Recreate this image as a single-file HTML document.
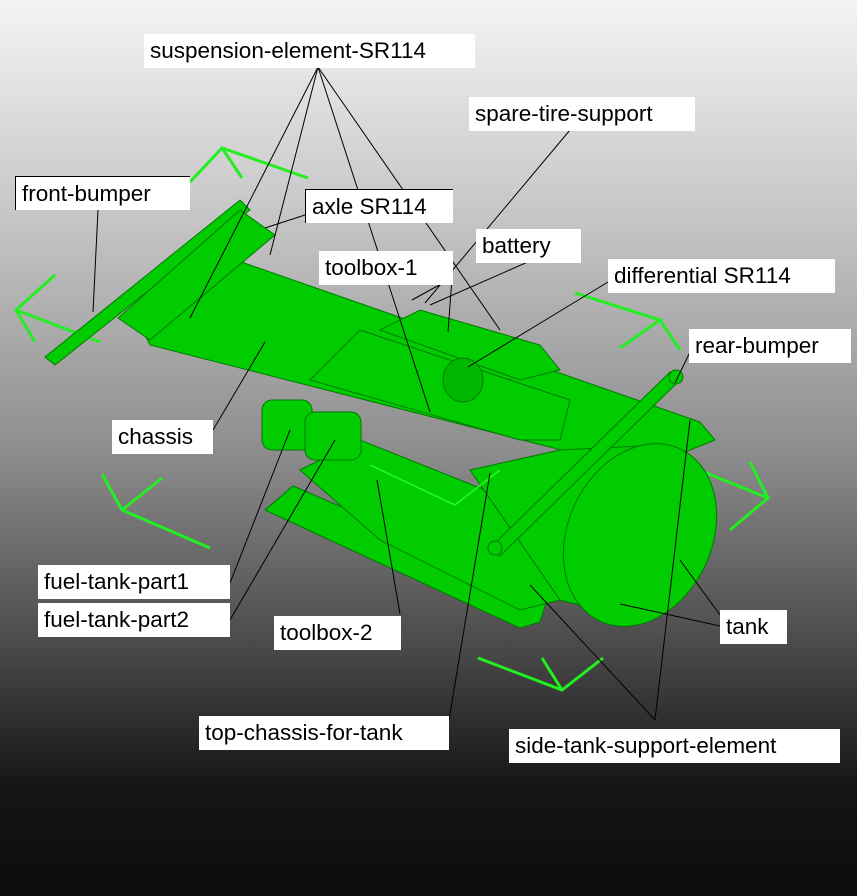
<!DOCTYPE html>
<html><head><meta charset="utf-8"><style>
html,body{margin:0;padding:0}
body{width:857px;height:896px;overflow:hidden;position:relative;background:linear-gradient(#f4f4f4 0%,#c4c4c4 25%,#8e8e8e 50%,#4a4a4a 72%,#151515 88%,#0c0c0c 100%);font-family:"Liberation Sans",sans-serif}
.l{position:absolute;background:#fff;color:#000;font-size:22.5px;line-height:33px;padding:0 6px;white-space:nowrap;box-sizing:border-box;height:34px;overflow:hidden}
svg{position:absolute;left:0;top:0}
</style></head><body>
<svg width="857" height="896" viewBox="0 0 857 896">
<g stroke="#22ee22" stroke-width="3" fill="none">
<polyline points="190,182 222,148 308,178"/><line x1="222" y1="148" x2="242" y2="178"/>
<polyline points="55,275 16,310 100,342"/><line x1="16" y1="310" x2="35" y2="342"/>
<polyline points="575,293 660,320 620,348"/><line x1="660" y1="320" x2="680" y2="350"/>
<polyline points="102,474 122,510 210,548"/><line x1="122" y1="510" x2="162" y2="478"/>
<polyline points="704,472 768,498 730,530"/><line x1="768" y1="498" x2="750" y2="462"/>
<polyline points="478,658 562,690 603,658"/><line x1="562" y1="690" x2="542" y2="658"/>
</g>
<g fill="#00cc00" stroke="#007a00" stroke-width="1">
<polygon points="265,510 293,486 548,596 540,622 520,628"/>
<polygon points="230,258 700,422 715,440 640,470 150,345 140,325"/>
<polygon points="300,470 360,440 560,520 560,600 520,610 380,540"/>
<polygon points="470,470 560,450 660,445 700,470 640,620 560,600"/>
<ellipse cx="640" cy="535" rx="72" ry="95" transform="rotate(25 640 535)"/>
<polygon points="45,357 240,200 250,210 55,365"/>
<polygon points="118,318 240,210 275,235 150,340"/>
<polygon points="380,330 420,310 540,345 560,370 520,380"/>
<polygon points="310,380 360,330 570,400 560,440 520,440"/>
<rect x="262" y="400" width="50" height="50" rx="10"/>
<rect x="305" y="412" width="56" height="48" rx="10"/>
<ellipse cx="463" cy="380" rx="20" ry="22" fill="#00b800"/>
<polygon points="490,548 670,372 680,380 500,556"/>
<circle cx="495" cy="548" r="7"/><circle cx="676" cy="377" r="7"/>
</g>
<g fill="none" stroke="#22ff22" stroke-width="1.5">
<polyline points="370,465 455,505 500,470"/>
</g>
<g stroke="#000" stroke-width="1" fill="none">
<line x1="318" y1="67" x2="190" y2="318"/><line x1="318" y1="67" x2="270" y2="255"/>
<line x1="318" y1="67" x2="430" y2="412"/><line x1="318" y1="67" x2="500" y2="330"/>
<line x1="570" y1="130" x2="425" y2="303"/>
<line x1="98" y1="210" x2="93" y2="312"/>
<line x1="305" y1="215" x2="265" y2="228"/>
<line x1="452" y1="278" x2="448" y2="332"/><line x1="452" y1="278" x2="412" y2="300"/>
<line x1="555" y1="250" x2="430" y2="305"/>
<line x1="608" y1="282" x2="468" y2="367"/>
<line x1="692" y1="348" x2="675" y2="383"/>
<line x1="213" y1="430" x2="265" y2="342"/>
<line x1="230" y1="583" x2="290" y2="430"/><line x1="230" y1="620" x2="335" y2="440"/>
<line x1="400" y1="614" x2="377" y2="480"/>
<line x1="449" y1="720" x2="490" y2="473"/>
<line x1="720" y1="626" x2="620" y2="604"/><line x1="720" y1="615" x2="680" y2="560"/>
<line x1="655" y1="720" x2="530" y2="585"/><line x1="655" y1="720" x2="690" y2="420"/>
</g>
</svg>
<div class="l" style="left:144px;top:34px;width:331px">suspension-element-SR114</div>
<div class="l" style="left:469px;top:97px;width:226px">spare-tire-support</div>
<div class="l" style="left:15px;top:176px;width:175px;border-top:1px solid #000;border-left:1px solid #000">front-bumper</div>
<div class="l" style="left:305px;top:189px;width:148px;border-top:1px solid #000;border-left:1px solid #000">axle SR114</div>
<div class="l" style="left:319px;top:251px;width:134px">toolbox-1</div>
<div class="l" style="left:476px;top:229px;width:105px">battery</div>
<div class="l" style="left:608px;top:259px;width:227px">differential SR114</div>
<div class="l" style="left:689px;top:329px;width:162px">rear-bumper</div>
<div class="l" style="left:112px;top:420px;width:101px">chassis</div>
<div class="l" style="left:38px;top:565px;width:192px">fuel-tank-part1</div>
<div class="l" style="left:38px;top:603px;width:192px">fuel-tank-part2</div>
<div class="l" style="left:274px;top:616px;width:127px">toolbox-2</div>
<div class="l" style="left:199px;top:716px;width:250px">top-chassis-for-tank</div>
<div class="l" style="left:720px;top:610px;width:67px">tank</div>
<div class="l" style="left:509px;top:729px;width:331px">side-tank-support-element</div>
</body></html>
